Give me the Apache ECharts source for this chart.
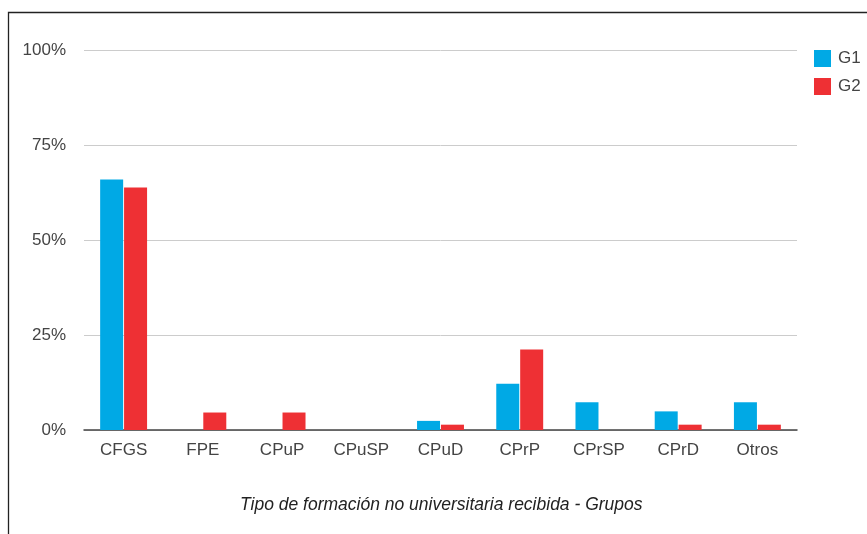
<!DOCTYPE html>
<html><head><meta charset="utf-8">
<script src="https://cdn.jsdelivr.net/npm/echarts@6/dist/echarts.min.js"></script>
<style>html,body{margin:0;padding:0;background:#fff}#c{width:867px;height:534px}</style>
</head><body><div id="c"></div>
<script>
const categories = ["CFGS","FPE","CPuP","CPuSP","CPuD","CPrP","CPrSP","CPrD","Otros"];
const g1 = [65.9, 0, 0, 0, 2.4, 12.2, 7.3, 4.9, 7.3];
const g2 = [63.8, 4.6, 4.6, 0, 1.4, 21.2, 0, 1.4, 1.4];
const yTicks = [0, 25, 50, 75, 100];
const chart = echarts.init(document.getElementById('c'), null, {renderer:'canvas'});
chart.setOption({
  animation:false,
  textStyle:{fontFamily:'Liberation Sans, Arial, sans-serif'},
  graphic:[{type:'rect',shape:{x:8.5,y:12.5,width:900,height:600},style:{fill:'none',stroke:'#222',lineWidth:1.3},silent:true}],
  grid:{left:84,right:70,top:50,bottom:104},
  legend:{orient:'vertical',left:809,top:45,icon:'rect',itemWidth:17,itemHeight:17,itemGap:11,
    textStyle:{fontSize:17,color:'#444',padding:[0,0,0,2]},data:['G1','G2']},
  title:{text:'Tipo de formación no universitaria recibida - Grupos',left:235,top:491,
    textStyle:{fontSize:17.5,fontStyle:'italic',fontWeight:'normal',color:'#222'}},
  xAxis:{type:'category',data:categories,
    axisLine:{lineStyle:{color:'#444',width:1.5}},axisTick:{show:false},
    axisLabel:{fontSize:17,color:'#444',margin:12}},
  yAxis:{type:'value',min:0,max:100,interval:25,
    axisLabel:{fontSize:17,color:'#444',margin:18,formatter:v=>yTicks.includes(v)?v+'%':''},
    splitLine:{lineStyle:{color:'#ccc',width:1}},axisLine:{show:false},axisTick:{show:false}},
  series:[
    {name:'G1',type:'bar',data:g1,barWidth:23,barGap:'4%',itemStyle:{color:'#00A9E5'}},
    {name:'G2',type:'bar',data:g2,barWidth:23,barGap:'4%',itemStyle:{color:'#EE3034'}}
  ]
});
</script></body></html>
